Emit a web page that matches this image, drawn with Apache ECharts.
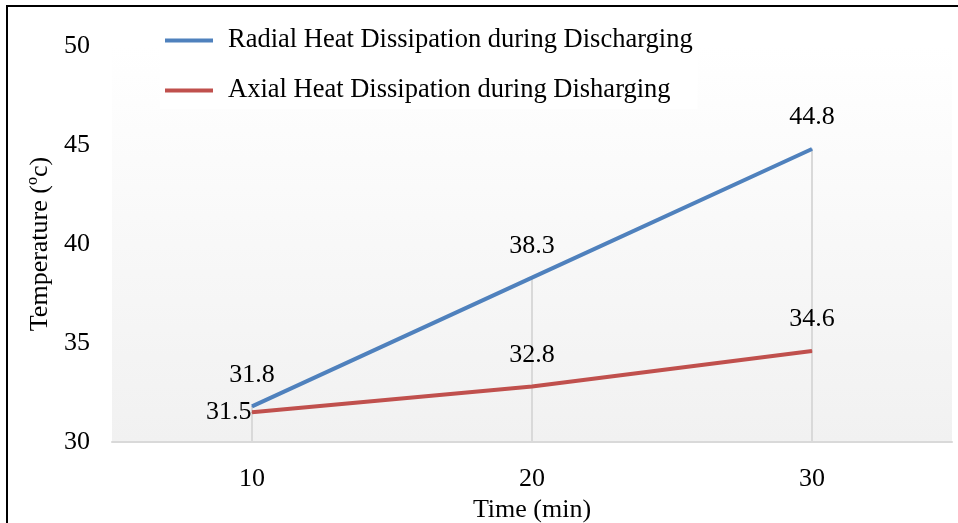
<!DOCTYPE html>
<html>
<head>
<meta charset="utf-8">
<style>
  html, body { margin: 0; padding: 0; background: #fff; }
  #chart { width: 958px; height: 523px; }
</style>
<script src="https://cdn.jsdelivr.net/npm/echarts@6/dist/echarts.min.js"></script>
</head>
<body>
<div id="chart"></div>
<script>
  // data
  var times = ['10', '20', '30'];
  var radial = [31.8, 38.3, 44.8];
  var axial = [31.5, 32.8, 34.6];
  var yTicks = { min: 30, max: 50, step: 5 };

  var FONT = '"Liberation Serif", "Times New Roman", serif';
  var FS = 26;
  // drop line for each category goes up to the higher of the two series
  var dropTop = radial.map(function (v, i) { return Math.max(v, axial[i]); });

  var chart = echarts.init(document.getElementById('chart'));
  chart.setOption({
    animation: false,
    textStyle: { fontFamily: FONT, color: '#000' },
    graphic: [{
      type: 'rect',
      shape: { x: 7, y: 6, width: 1000, height: 1000 },
      style: { fill: 'none', stroke: '#000', lineWidth: 2 },
      silent: true
    }],
    legend: {
      orient: 'vertical',
      left: 160,
      top: 22,
      itemWidth: 48,
      itemHeight: 4,
      itemGap: 23,
      icon: 'rect',
      backgroundColor: '#fff',
      textStyle: { fontFamily: FONT, fontSize: 26.5, color: '#000', padding: [0, 0, 0, 10] },
      data: ['Radial Heat Dissipation during Discharging', 'Axial Heat Dissipation during Disharging']
    },
    grid: {
      left: 112, right: 6, top: 46, bottom: 81,
      outerBoundsMode: 'none',
      show: true,
      borderWidth: 0,
      backgroundColor: new echarts.graphic.LinearGradient(0, 0, 0, 1, [
        { offset: 0, color: '#ffffff' },
        { offset: 1, color: '#f1f1f1' }
      ])
    },
    xAxis: {
      type: 'category',
      data: times,
      name: 'Time (min)',
      nameLocation: 'middle',
      nameGap: 55,
      nameTextStyle: { fontFamily: FONT, fontSize: FS, color: '#000' },
      axisLine: { lineStyle: { color: '#d9d9d9', width: 2 } },
      axisTick: { show: false },
      axisLabel: { fontFamily: FONT, fontSize: FS, color: '#000', margin: 24 }
    },
    yAxis: {
      type: 'value',
      min: yTicks.min,
      max: yTicks.max,
      interval: yTicks.step,
      name: 'Temperature (ºc)',
      nameLocation: 'middle',
      nameGap: 58,
      nameTextStyle: { fontFamily: FONT, fontSize: FS, color: '#000' },
      axisLine: { show: false },
      axisTick: { show: false },
      splitLine: { show: false },
      axisLabel: { fontFamily: FONT, fontSize: FS, color: '#000', margin: 22 }
    },
    series: [
      {
        name: 'drop',
        type: 'bar',
        data: dropTop,
        barWidth: 2,
        barGap: '-100%',
        itemStyle: { color: '#d9d9d9' },
        silent: true,
        z: 1
      },
      {
        name: 'Radial Heat Dissipation during Discharging',
        type: 'line',
        data: radial,
        symbol: 'circle',
        symbolSize: 1,
        lineStyle: { color: '#4f81bd', width: 4 },
        itemStyle: { color: '#4f81bd' },
        label: {
          show: true, position: 'top', distance: 18,
          fontFamily: FONT, fontSize: FS, color: '#000'
        },
        z: 3
      },
      {
        name: 'Axial Heat Dissipation during Disharging',
        type: 'line',
        data: axial.map(function (v, i) {
          return i === 0 ? { value: v, label: { position: 'left', distance: 0 } } : v;
        }),
        symbol: 'circle',
        symbolSize: 1,
        lineStyle: { color: '#c0504d', width: 4 },
        itemStyle: { color: '#c0504d' },
        label: {
          show: true, position: 'top', distance: 18,
          fontFamily: FONT, fontSize: FS, color: '#000'
        },
        z: 3
      }
    ]
  });
</script>
</body>
</html>
